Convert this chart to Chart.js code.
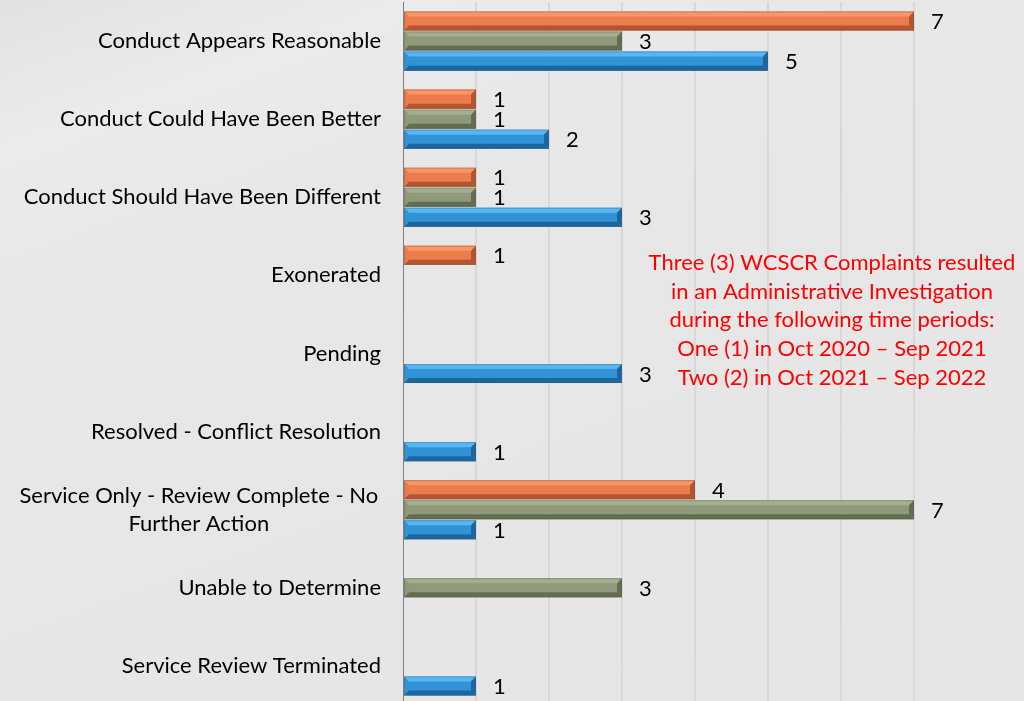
<!DOCTYPE html>
<html>
<head>
<meta charset="utf-8">
<script src="https://cdn.jsdelivr.net/npm/chart.js@4"></script>
<style>
  html, body { margin: 0; padding: 0; overflow: hidden; }
  body {
    width: 1024px; height: 701px;
    background: linear-gradient(160deg, #e1e1e1 0%, #ebebeb 14%, #e7e7e7 32%, #e5e5e5 100%);
  }
  #wrap { position: absolute; left: 0; top: 0; width: 1024px; height: 710px; }
</style>
</head>
<body>
<div id="wrap"><canvas id="chart"></canvas></div>
<script>
const categories = [
  'Conduct Appears Reasonable',
  'Conduct Could Have Been Better',
  'Conduct Should Have Been Different',
  'Exonerated',
  'Pending',
  'Resolved - Conflict Resolution',
  ['Service Only - Review Complete - No ', 'Further Action'],
  'Unable to Determine',
  'Service Review Terminated'
];
const seriesNames = ['Oct 2019 – Sep 2020', 'Oct 2020 – Sep 2021', 'Oct 2021 – Sep 2022'];
const orangeValues = [7, 1, 1, 1, null, null, 4, null, null];
const greenValues  = [3, 1, 1, null, null, null, 7, 3, null];
const blueValues   = [5, 2, 3, null, 3, 1, 1, null, 1];
const noteLines = [
  'Three (3) WCSCR Complaints resulted',
  'in an Administrative Investigation',
  'during the following time periods:',
  'One (1) in Oct 2020 – Sep 2021',
  'Two (2) in Oct 2021 – Sep 2022'
];

const FONT = 'Lato, "Open Sans", sans-serif';
const shades = [
  { light: '#fb9664', mid: '#ec7c4d', dark: '#b5552f' },
  { light: '#a5af90', mid: '#8f9a7a', dark: '#636d52' },
  { light: '#55b7f6', mid: '#3193d6', dark: '#1c669f' }
];

// bevel look on top of the plain bars, plus value labels
const bevelPlugin = {
  id: 'bevel',
  afterDatasetsDraw(chart) {
    const ctx = chart.ctx;
    chart.data.datasets.forEach((ds, i) => {
      const s = shades[i];
      chart.getDatasetMeta(i).data.forEach((bar, j) => {
        if (ds.data[j] == null) return;
        const { x, y, base, height } = bar;
        const top = y - height / 2, bot = y + height / 2;
        const e = Math.min(5, height * 0.28);
        ctx.save();
        ctx.fillStyle = s.light;
        ctx.beginPath();
        ctx.moveTo(base, top); ctx.lineTo(x, top); ctx.lineTo(x - e, top + e); ctx.lineTo(base + e, top + e);
        ctx.closePath(); ctx.fill();
        ctx.fillStyle = s.dark;
        ctx.beginPath();
        ctx.moveTo(base, bot); ctx.lineTo(x, bot); ctx.lineTo(x - e, bot - e); ctx.lineTo(base + e, bot - e);
        ctx.closePath(); ctx.fill();
        ctx.beginPath();
        ctx.moveTo(x, top); ctx.lineTo(x, bot); ctx.lineTo(x - e, bot - e); ctx.lineTo(x - e, top + e);
        ctx.closePath(); ctx.fill();
        ctx.globalAlpha = 0.6;
        ctx.fillStyle = s.mid;
        ctx.beginPath();
        ctx.moveTo(base, top); ctx.lineTo(base + e, top + e); ctx.lineTo(base + e, bot - e); ctx.lineTo(base, bot);
        ctx.closePath(); ctx.fill();
        ctx.globalAlpha = 1;
        ctx.strokeStyle = 'rgba(90,90,90,0.35)';
        ctx.lineWidth = 1;
        ctx.strokeRect(base + 0.5, top + 0.5, x - base - 1, height - 1);
        ctx.restore();

        ctx.save();
        ctx.fillStyle = '#000';
        ctx.font = '22px ' + FONT;
        ctx.textAlign = 'left';
        ctx.textBaseline = 'middle';
        ctx.fillText(String(ds.data[j]), x + 17, y + 1);
        ctx.restore();
      });
    });
  }
};

// category labels: right-aligned block, wrapped lines centred within it
const labelPlugin = {
  id: 'catLabels',
  afterDraw(chart) {
    const ctx = chart.ctx;
    const yScale = chart.scales.y;
    ctx.save();
    ctx.font = '22px ' + FONT;
    ctx.fillStyle = '#000';
    ctx.textBaseline = 'middle';
    const right = chart.chartArea.left - 22;
    categories.forEach((lab, i) => {
      const cy = yScale.getPixelForValue(i);
      const lines = Array.isArray(lab) ? lab : [lab];
      const w = Math.max(...lines.map(l => ctx.measureText(l).width));
      const lh = 28;
      lines.forEach((l, k) => {
        const ly = cy + (k - (lines.length - 1) / 2) * lh;
        if (lines.length === 1) {
          ctx.textAlign = 'right';
          ctx.fillText(l, right, ly);
        } else {
          ctx.textAlign = 'center';
          ctx.fillText(l.trim(), right - w / 2, ly);
        }
      });
    });
    ctx.restore();

    ctx.save();
    ctx.font = '22px ' + FONT;
    ctx.fillStyle = '#ff0000';
    ctx.textAlign = 'center';
    ctx.textBaseline = 'middle';
    noteLines.forEach((l, k) => ctx.fillText(l, 832, 263 + k * 28.7));
    ctx.restore();
  }
};

new Chart(document.getElementById('chart').getContext('2d'), {
  type: 'bar',
  data: {
    labels: categories,
    datasets: [
      { label: seriesNames[0], data: orangeValues, backgroundColor: shades[0].mid },
      { label: seriesNames[1], data: greenValues, backgroundColor: shades[1].mid },
      { label: seriesNames[2], data: blueValues, backgroundColor: shades[2].mid }
    ]
  },
  options: {
    indexAxis: 'y',
    responsive: true,
    maintainAspectRatio: false,
    animation: false,
    categoryPercentage: 0.77,
    barPercentage: 0.95,
    layout: { padding: { top: 2, bottom: 5, left: 0, right: 37 } },
    plugins: { legend: { display: false }, tooltip: { enabled: false } },
    scales: {
      x: {
        min: 0, max: 8,
        ticks: { display: false, stepSize: 1 },
        border: { display: false },
        grid: {
          drawTicks: false,
          lineWidth: 2,
          color: c => (c.tick && (c.tick.value === 0 || c.tick.value === 8)) ? 'rgba(0,0,0,0)' : '#d8d8d8'
        }
      },
      y: {
        ticks: { display: false },
        grid: { display: false, drawTicks: false },
        border: { display: true, color: '#7f7f7f', width: 1 },
        afterFit: s => { s.width = 403; }
      }
    }
  },
  plugins: [bevelPlugin, labelPlugin]
});
</script>
</body>
</html>
